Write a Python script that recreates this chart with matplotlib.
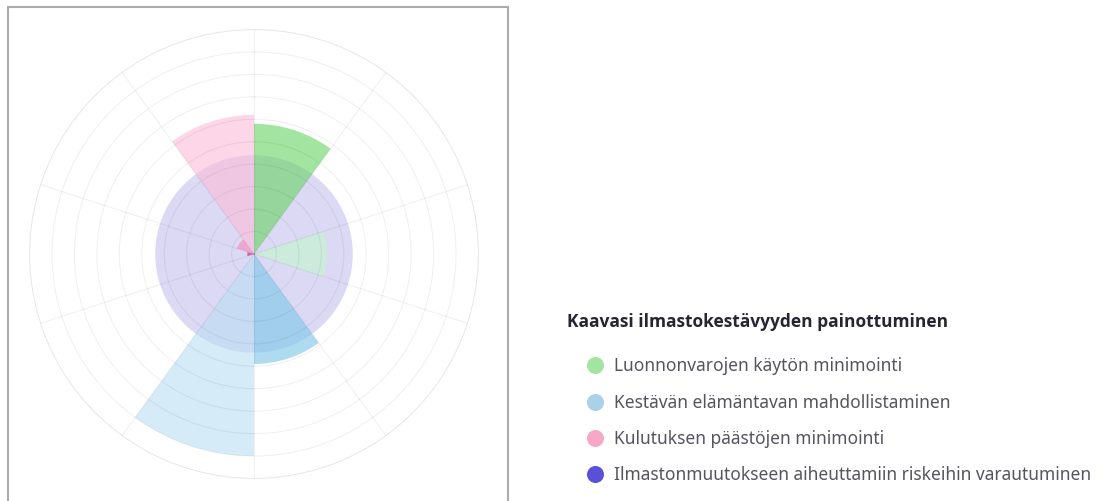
import numpy as np
import matplotlib
matplotlib.use("Agg")
import matplotlib.pyplot as plt
from matplotlib.patches import Rectangle

# ten 36-degree sectors, clockwise from north
sector_values = [5.8, 0, 3.25, 0, 4.9, 9.0, 0, 0.3, 0.8, 6.2]
risk_values = [4.4, 4.4, 4.4, 4.4, 4.4, 4.4, 4.4, 4.4, 4.4, 4.4]
r_max = 10

legend_title = "Kaavasi ilmastokestävyyden painottuminen"
legend_labels = [
    "Luonnonvarojen käytön minimointi",
    "Kestävän elämäntavan mahdollistaminen",
    "Kulutuksen päästöjen minimointi",
    "Ilmastonmuutokseen aiheuttamiin riskeihin varautuminen",
]
legend_colors = ["#a3e4a0", "#a9d1ea", "#f7a8c9", "#5a50d8"]

sector_colors = [
    (111/255, 213/255, 107/255, 0.64),
    (1, 1, 1, 0),
    (200/255, 240/255, 215/255, 0.8),
    (1, 1, 1, 0),
    (128/255, 200/255, 232/255, 0.64),
    (185/255, 223/255, 243/255, 0.6),
    (1, 1, 1, 0),
    (215/255, 90/255, 160/255, 0.9),
    (240/255, 160/255, 200/255, 0.85),
    (252/255, 187/255, 217/255, 0.6),
]
risk_color = (120/255, 110/255, 215/255, 0.26)

plt.rcParams['font.family'] = ['Noto Sans', 'DejaVu Sans']

fig = plt.figure(figsize=(11.04, 5.02), dpi=100)

n = len(sector_values)
width = 2 * np.pi / n
theta = np.arange(n) * width

ax = fig.add_axes([254/1104 - 224.5/1104, (247 - 224.5)/502, 449/1104, 449/502],
                  projection='polar')
ax.set_theta_zero_location('N')
ax.set_theta_direction(-1)
ax.bar(theta, risk_values, width=width, align='edge', color=risk_color,
       edgecolor='none', linewidth=0, zorder=1)
ax.bar(theta, sector_values, width=width, align='edge', color=sector_colors,
       edgecolor='none', linewidth=0, zorder=2)
ax.set_ylim(0, r_max)
ax.set_yticks(np.arange(1, r_max + 1))
ax.set_yticklabels([])
ax.set_xticks(theta)
ax.set_xticklabels([])
ax.set_axisbelow(False)
ax.grid(True, color='#000000', alpha=0.06, linewidth=0.8)
ax.spines['polar'].set_color((0, 0, 0, 0.06))
ax.spines['polar'].set_linewidth(0.8)
ax.tick_params(length=0)

# frame round the chart panel
fig.add_artist(Rectangle((8/1104, -0.02), 500/1104, (502 - 8)/502 + 0.02,
                         transform=fig.transFigure, fill=False,
                         edgecolor='#ababab', linewidth=1.5))

# custom legend in pixel coordinates
lg = fig.add_axes([0, 0, 1, 1])
lg.set_xlim(0, 1104)
lg.set_ylim(502, 0)
lg.axis('off')
lg.patch.set_alpha(0)
lg.text(567, 322, legend_title, fontsize=12.5, fontweight='bold',
        family=['Open Sans', 'Roboto', 'DejaVu Sans'],
        color='#262633', va='center', ha='left')
ys = [366, 403, 439, 475]
for y, lab, col in zip(ys, legend_labels, legend_colors):
    lg.scatter([595], [y], s=150, color=col, linewidths=0)
    lg.text(614, y, lab, fontsize=12.5, color='#555560', va='center', ha='left')

fig.savefig("out.png", dpi=100)
